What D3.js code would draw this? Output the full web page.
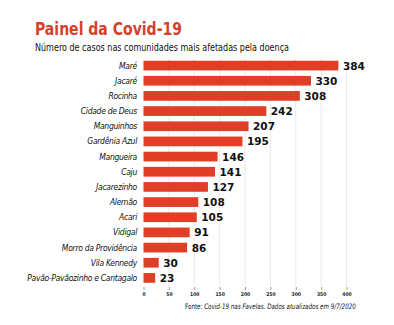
<!DOCTYPE html>
<html><head><meta charset="utf-8">
<script src="https://cdn.jsdelivr.net/npm/d3@7"></script>
<style>body{margin:0;background:#fff}</style>
</head><body>
<script>
const categories = ["Maré","Jacaré","Rocinha","Cidade de Deus","Manguinhos","Gardênia Azul","Mangueira","Caju","Jacarezinho","Alemão","Acari","Vidigal","Morro da Providência","Vila Kennedy","Pavão-Pavãozinho e Cantagalo"];
const cases = [384,330,308,242,207,195,146,141,127,108,105,91,86,30,23];
const tickValues = [0,50,100,150,200,250,300,350,400];

const W=394,H=325;
const svg=d3.select("body").append("svg").attr("width",W).attr("height",H);
const narrow="'Liberation Sans Narrow','DejaVu Sans Condensed',sans-serif";
const red="#e03e27";

svg.append("text").attr("x",35).attr("y",35).text("Painel da Covid-19")
 .attr("font-family",narrow).attr("font-weight","bold").attr("font-size",18).attr("fill","#d5412c")
 .attr("textLength",147).attr("lengthAdjust","spacingAndGlyphs");
svg.append("text").attr("x",35).attr("y",51).text("Número de casos nas comunidades mais afetadas pela doença")
 .attr("font-family",narrow).attr("font-size",10.5).attr("fill","#111")
 .attr("textLength",254).attr("lengthAdjust","spacingAndGlyphs");

const x=d3.scaleLinear().domain([0,400]).range([143.5,346.5]);
const y=d3.scaleBand().domain(categories).range([58,285.5]).paddingInner(0.36).paddingOuter(0.18);

const g=svg.append("g");
g.selectAll("line.grid").data(tickValues.slice(1)).join("line")
 .attr("x1",d=>x(d)).attr("x2",d=>x(d)).attr("y1",58).attr("y2",286)
 .attr("stroke","#e2e2e2").attr("stroke-width",0.8);

const axis=d3.axisBottom(x).tickValues(tickValues).tickSize(3).tickPadding(2).tickFormat(d3.format("d"));
const ag=svg.append("g").attr("transform","translate(0,287)").call(axis);
ag.select(".domain").remove();
ag.selectAll("line").attr("stroke","#555").attr("stroke-width",0.6);
ag.selectAll("text").attr("font-family",narrow).attr("font-size",5).attr("font-weight","bold").attr("fill","#222");

g.selectAll("rect.bar").data(categories).join("rect")
 .attr("x",x(0)).attr("y",d=>y(d)).attr("width",(d,i)=>x(cases[i])-x(0)).attr("height",y.bandwidth())
 .attr("fill",red);

g.selectAll("text.cat").data(categories).join("text")
 .attr("x",137).attr("y",d=>y(d)+y.bandwidth()/2).attr("dy","0.35em").attr("text-anchor","end")
 .attr("font-family",narrow).attr("font-style","italic").attr("font-size",8.5).attr("fill","#111")
 .attr("letter-spacing",-0.3)
 .text(d=>d);

g.selectAll("text.val").data(categories).join("text")
 .attr("x",(d,i)=>x(cases[i])+4.5).attr("y",d=>y(d)+y.bandwidth()/2).attr("dy","0.38em")
 .attr("font-family","'DejaVu Sans',sans-serif").attr("font-weight","bold").attr("font-size",10.5).attr("fill","#111")
 .text((d,i)=>cases[i]);

const fg=svg.append("g").attr("transform","translate(185,309)");
const foot=fg.append("text").attr("x",0).attr("y",0).attr("font-family",narrow).attr("font-size",7.5).attr("fill","#111");
foot.append("tspan").text("Fonte: ");
foot.append("tspan").attr("font-style","italic").text("Covid-19 nas Favelas. Dados atualizados em 9/7/2020");
const fw=foot.node().getComputedTextLength();
if(fw>0) fg.attr("transform",`translate(185,309) scale(${171/fw},1)`);
</script>
</body></html>
